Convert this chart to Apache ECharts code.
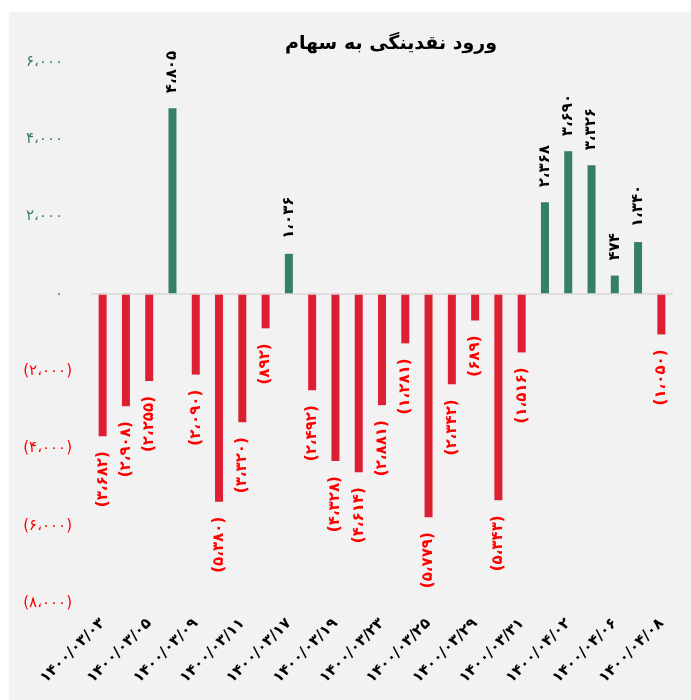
<!DOCTYPE html>
<html>
<head>
<meta charset="utf-8">
<script src="https://cdn.jsdelivr.net/npm/echarts@6/dist/echarts.min.js"></script>
<style>
html,body{margin:0;padding:0;background:#ffffff;}
#c{width:691px;height:700px;}
</style>
</head>
<body>
<div id="c"></div>
<script>
var title = 'ورود نقدینگی به سهام';
var categories = [
  '1400/03/03','1400/03/04','1400/03/05','1400/03/08','1400/03/09',
  '1400/03/10','1400/03/11','1400/03/16','1400/03/17','1400/03/18',
  '1400/03/19','1400/03/22','1400/03/23','1400/03/24','1400/03/25',
  '1400/03/26','1400/03/29','1400/03/30','1400/03/31','1400/04/01',
  '1400/04/02','1400/04/05','1400/04/06','1400/04/07','1400/04/08'
];
var values = [
  -3682, -2908, -2255, 4805, -2090,
  -5380, -3320, -892, 1036, -2492,
  -4328, -4614, -2881, -1281, -5779,
  -2342, -689, -5343, -1516, 2368,
  3690, 3326, 474, 1340, -1050
];
var yMin = -8000, yMax = 6000, yStep = 2000;

var FA = '۰۱۲۳۴۵۶۷۸۹';
function faDigits(s){ return String(s).replace(/[0-9]/g, function(d){ return FA[+d]; }); }
function faNum(v){
  var a = Math.abs(v);
  var s = String(a).replace(/\B(?=(\d{3})+(?!\d))/g, '،');
  s = faDigits(s);
  return v < 0 ? '(' + s + ')' : s;
}

var GREEN = '#357f62', RED = '#dc1f33';
var FONT = '"DejaVu Sans", sans-serif';

var barData = values.map(function(v){
  var pos = v >= 0;
  return {
    value: v,
    itemStyle: { color: pos ? GREEN : RED },
    label: {
      show: true,
      position: pos ? 'top' : 'bottom',
      rotate: 90,
      align: pos ? 'left' : 'right',
      verticalAlign: 'middle',
      distance: 15,
      color: pos ? '#000000' : '#ff0000',
      fontWeight: 'bold',
      fontSize: 15,
      fontFamily: FONT,
      formatter: function(p){ return faNum(p.value); }
    }
  };
});

var chart = echarts.init(document.getElementById('c'));
chart.setOption({
  animation: false,
  backgroundColor: '#ffffff',
  graphic: [{
    type: 'rect', left: 9, top: 12, z: -10,
    shape: { width: 682, height: 688 },
    style: { fill: '#f2f2f2' }
  }],
  title: {
    text: title,
    left: 386, top: 30, textAlign: 'center',
    textStyle: { fontFamily: FONT, fontWeight: 'bold', fontSize: 19, color: '#000000' }
  },
  grid: { left: 91, right: 18, top: 62, bottom: 97, containLabel: false },
  xAxis: {
    type: 'category',
    data: categories,
    axisLine: { show: false, onZero: false },
    axisTick: { show: false },
    axisLabel: {
      interval: 1,
      rotate: 45,
      margin: 18,
      fontFamily: FONT,
      fontWeight: 'bold',
      fontSize: 15,
      color: '#000000',
      formatter: function(v){ return faDigits(v); }
    }
  },
  yAxis: {
    type: 'value',
    min: yMin, max: yMax, interval: yStep,
    axisLine: { show: false },
    axisTick: { show: false },
    splitLine: { show: false },
    axisLabel: {
      margin: 19,
      formatter: function(v){
        return v < 0 ? '{r|' + faNum(v) + '}' : '{g|' + faNum(v) + '}';
      },
      rich: {
        g: { color: '#3a7d60', fontSize: 15, fontFamily: FONT, padding: [0, 9, 0, 0] },
        r: { color: '#ff0000', fontSize: 15, fontFamily: FONT }
      }
    }
  },
  series: [{
    type: 'bar',
    data: barData,
    barWidth: 8,
    markLine: {
      silent: true,
      symbol: 'none',
      label: { show: false },
      lineStyle: { color: '#d9d9d9', width: 1.5, type: 'solid' },
      data: [{ yAxis: 0 }]
    }
  }]
});
</script>
</body>
</html>
